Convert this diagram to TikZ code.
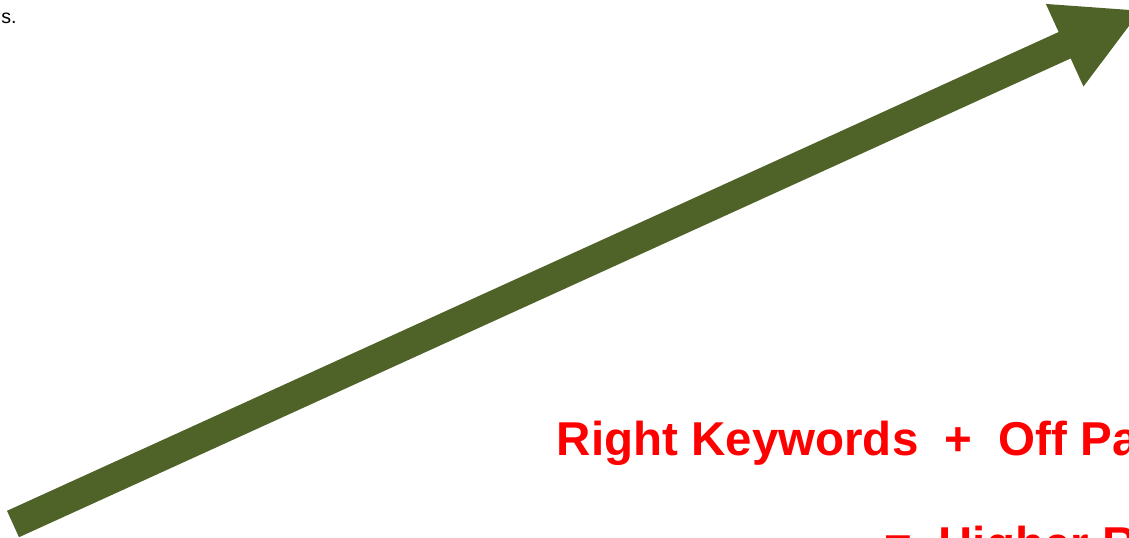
\documentclass[tikz,border=0pt]{standalone}
\usepackage{fontspec}
\setmainfont{Liberation Sans}
\usepackage{tikz}
\usetikzlibrary{arrows.meta, positioning}
\definecolor{olivedark}{RGB}{79,98,40}

\begin{document}
\begin{tikzpicture}[x=0.5pt, y=-0.5pt,
  growth/.style={-{Triangle[length=42.5pt, width=42pt]}, line width=14.5pt,
                 draw=olivedark, color=olivedark},
  slogan/.style={inner sep=0pt, anchor=base west, text=red,
                 font=\fontsize{23.75}{28}\selectfont\bfseries},
  snippet/.style={inner sep=0pt, anchor=base east, font=\fontsize{9.8}{11}\selectfont}]

  \useasboundingbox (0,0) rectangle (1129,537);
  \clip (0,0) rectangle (1129,537);

  % cut-off text at the top left
  \node[snippet] (prev) at (17,23) {s.};

  % the rising arrow
  \coordinate (start) at (13,524);
  \coordinate (tip)   at (1142,10);
  \draw[growth] (start) -- (tip);

  % formula
  \node[slogan] (sum)    at (556.5,455) {Right Keywords\ \ +\ \ Off Pa};
  \node[slogan] (result) at (884,560)   {=\ \ Higher R};
\end{tikzpicture}
\end{document}
